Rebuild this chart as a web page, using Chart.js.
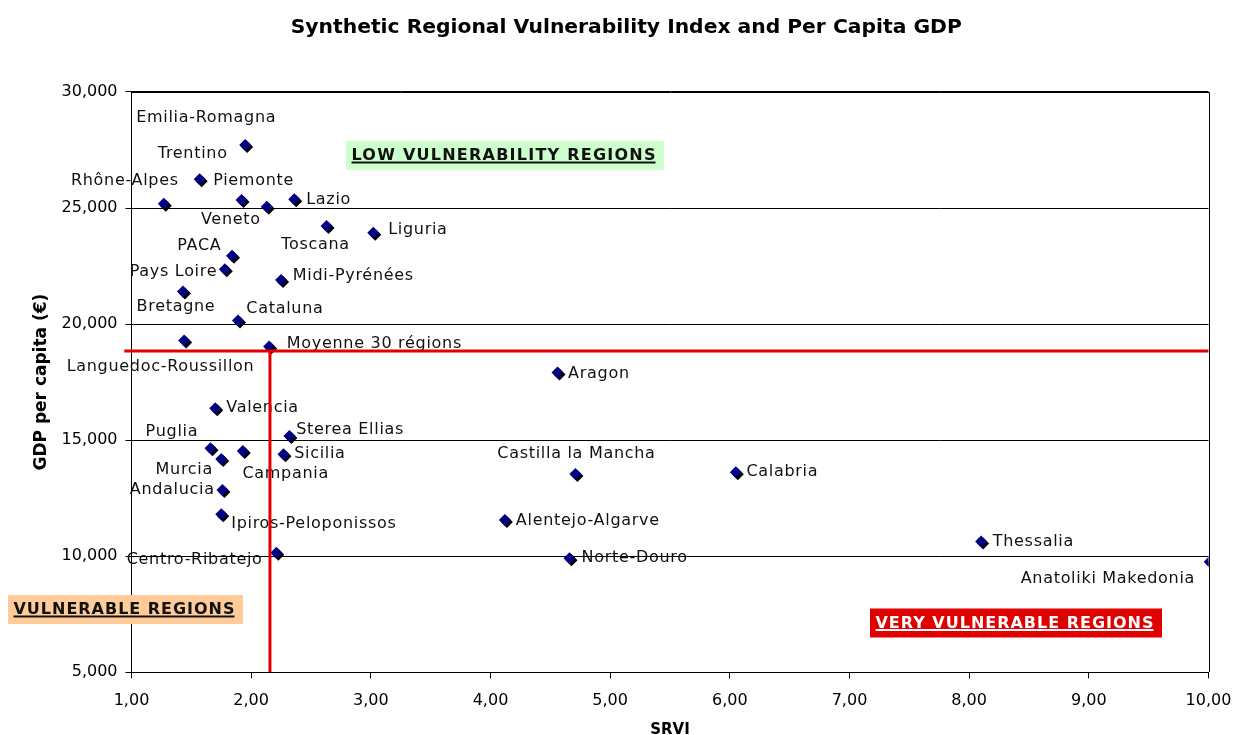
<!DOCTYPE html>
<html>
<head>
<meta charset="utf-8">
<script src="https://cdn.jsdelivr.net/npm/chart.js@4.4.1/dist/chart.umd.min.js"></script>
<style>
html,body{margin:0;padding:0;background:#ffffff;}
#wrap{width:1234px;height:735px;position:relative;}
</style>
</head>
<body>
<div id="wrap"><canvas id="chart" width="1234" height="735"></canvas></div>
<script>
// ---------- DATA ----------
const regions = ['Emilia-Romagna','Trentino','Rhône-Alpes','Piemonte','Veneto','Lazio','Toscana','Liguria',
  'PACA','Pays Loire','Midi-Pyrénées','Bretagne','Cataluna','Languedoc-Roussillon','Moyenne 30 régions',
  'Aragon','Valencia','Puglia','Sterea Ellias','Murcia','Campania','Sicilia','Andalucia',
  'Ipiros-Peloponissos','Centro-Ribatejo','Castilla la Mancha','Alentejo-Algarve','Norte-Douro',
  'Calabria','Thessalia','Anatoliki Makedonia'];
const srvi = [1.95,1.57,1.27,1.92,2.13,2.36,2.63,3.02,
  1.84,1.78,2.25,1.43,1.89,1.44,2.15,
  4.56,1.70,1.66,2.32,1.75,1.93,2.27,1.76,
  1.75,2.21,4.71,4.12,4.66,
  6.05,8.10,10.01];
const gdp = [27720,26240,25180,25350,25060,25380,24230,23940,
  22940,22360,21900,21400,20150,19290,19030,
  17910,16370,14650,15180,14190,14530,14390,12850,
  11810,10150,13540,11560,9910,
  13620,10640,9760];
// average reference lines (red)
const avgSRVI = 2.157;
const avgGDP = 18840;
const refLineStart = 0.94;
const srviMin = 1, srviMax = 10, srviStep = 1;
const gdpMin = 5000, gdpMax = 30000, gdpStep = 5000;

const chartTitle = 'Synthetic Regional Vulnerability Index and Per Capita GDP';
const xTitle = 'SRVI';
const yTitle = 'GDP per capita (€)';

// ---------- STYLE / LAYOUT (not data) ----------
// label offset from its marker: [dx, dy, textAlign]
const labelLayout = {
  'Emilia-Romagna':[-39,-27,'center'], 'Trentino':[-7,-25,'center'], 'Rhône-Alpes':[15,-23,'right'],
  'Piemonte':[12,-19,'center'], 'Veneto':[-6,13,'right'], 'Lazio':[12,1,'left'], 'Toscana':[-11,19,'center'],
  'Liguria':[15,-3,'left'], 'PACA':[-10.6,-10,'right'], 'Pays Loire':[-7.6,3,'right'],
  'Midi-Pyrénées':[11.7,-4,'left'], 'Bretagne':[-7,15,'center'], 'Cataluna':[8.3,-11.4,'left'],
  'Languedoc-Roussillon':[-23.6,26.6,'center'], 'Moyenne 30 régions':[17.7,-2.4,'left'],
  'Aragon':[10.6,1.6,'left'], 'Valencia':[11,-1,'left'], 'Puglia':[-12.3,-16.6,'right'],
  'Sterea Ellias':[6.7,-6,'left'], 'Murcia':[-8.3,11,'right'], 'Campania':[-0.4,23,'left'],
  'Sicilia':[10.7,0,'left'], 'Andalucia':[-7.7,-0.7,'right'], 'Ipiros-Peloponissos':[10,10,'left'],
  'Centro-Ribatejo':[-13.7,7.3,'right'], 'Castilla la Mancha':[1,-20.7,'center'],
  'Alentejo-Algarve':[11,0.7,'left'], 'Norte-Douro':[12,0,'left'], 'Calabria':[10.6,0,'left'],
  'Thessalia':[11.6,0,'left'], 'Anatoliki Makedonia':[-14.6,17.2,'right']
};
const regionBoxes = [
  {text:'LOW VULNERABILITY REGIONS', x:346, y:141, w:318, h:29, bg:'#ccffcc', color:'#111111'},
  {text:'VULNERABLE REGIONS', x:8, y:595, w:235, h:29, bg:'#ffcc99', color:'#111111'},
  {text:'VERY VULNERABLE REGIONS', x:870, y:608.5, w:292, h:29, bg:'#e00000', color:'#ffffff'}
];
const FONT = "'DejaVu Sans', Verdana, sans-serif";

Chart.defaults.font.family = FONT;
Chart.defaults.color = '#000000';

const plotBorder = {
  id: 'plotBorder',
  beforeDatasetsDraw(chart) {
    const {ctx, chartArea: a} = chart;
    ctx.save();
    ctx.strokeStyle = '#000000';
    ctx.lineWidth = 1;
    ctx.beginPath();
    const t = Math.round(a.top) + 0.5, r = Math.round(a.right) + 0.5;
    ctx.moveTo(Math.round(a.left), t);
    ctx.lineTo(r, t);
    ctx.lineTo(r, Math.round(a.bottom));
    ctx.stroke();
    ctx.restore();
  }
};

const isRegions = (chart, args) => chart.data.datasets[args.index].id === 'regions';

const markerShadow = {
  id: 'markerShadow',
  beforeDatasetDraw(chart, args) {
    if (!isRegions(chart, args)) return;
    const ctx = chart.ctx;
    ctx.save();
    ctx.shadowColor = '#000000';
    ctx.shadowOffsetX = 2;
    ctx.shadowOffsetY = 2;
    ctx.shadowBlur = 0;
  },
  afterDatasetDraw(chart, args) {
    if (!isRegions(chart, args)) return;
    const ctx = chart.ctx;
    ctx.restore();
    // data labels
    ctx.save();
    ctx.font = '16px ' + FONT;
    ctx.letterSpacing = '0.7px';
    ctx.fillStyle = '#111111';
    ctx.textBaseline = 'middle';
    args.meta.data.forEach((pt, i) => {
      const name = regions[i];
      const lay = labelLayout[name] || [10, 0, 'left'];
      ctx.textAlign = lay[2];
      ctx.fillText(name, pt.x + lay[0], pt.y + lay[1]);
    });
    ctx.restore();
  }
};

const boxesPlugin = {
  id: 'regionBoxes',
  afterDraw(chart) {
    const ctx = chart.ctx;
    ctx.save();
    regionBoxes.forEach(b => {
      ctx.fillStyle = b.bg;
      ctx.fillRect(b.x, b.y, b.w, b.h);
      ctx.font = 'bold 16px ' + FONT;
      ctx.textBaseline = 'alphabetic';
      ctx.textAlign = 'left';
      const target = b.w - 14;
      ctx.letterSpacing = '0px';
      const m = ctx.measureText(b.text).width;
      const ls = (target - m) / (b.text.length - 1);
      ctx.letterSpacing = ls + 'px';
      const tx = b.x + 5.5;
      const base = b.y + 19;
      ctx.fillStyle = b.color;
      ctx.fillText(b.text, tx, base);
      ctx.fillRect(tx, base + 1.5, target, 2);
    });
    ctx.restore();
  }
};

const regionPoints = regions.map((r, i) => ({x: srvi[i], y: gdp[i]}));

new Chart(document.getElementById('chart'), {
  type: 'scatter',
  data: {
    datasets: [
      {
        label: 'Average GDP', showLine: true, order: 0, clip: false,
        data: [{x: refLineStart, y: avgGDP}, {x: srviMax, y: avgGDP}],
        borderColor: '#e00000', borderWidth: 3, pointRadius: 0, pointHoverRadius: 0
      },
      {
        label: 'Average SRVI', showLine: true, order: 0,
        data: [{x: avgSRVI, y: avgGDP}, {x: avgSRVI, y: gdpMin}],
        borderColor: '#e00000', borderWidth: 3, pointRadius: 0, pointHoverRadius: 0
      },
      {
        id: 'regions', label: 'Regions', order: 1,
        data: regionPoints,
        pointStyle: 'rectRot', pointRadius: 6, pointHoverRadius: 6,
        backgroundColor: '#000080', borderColor: '#000080', borderWidth: 0
      }
    ]
  },
  options: {
    responsive: false,
    animation: false,
    events: [],
    layout: {padding: {top: 0, right: 25.5, bottom: 0, left: 44}},
    plugins: {
      legend: {display: false},
      tooltip: {enabled: false},
      title: {
        display: true, text: chartTitle, color: '#000000',
        font: {family: FONT, size: 20.3, weight: 'bold', lineHeight: 1.2},
        padding: {top: 16, bottom: 51.6}
      }
    },
    scales: {
      x: {
        type: 'linear', min: srviMin, max: srviMax,
        afterFit(s) { s.height = 62.7; s.paddingLeft = 0; s.paddingRight = 0; },
        ticks: {
          stepSize: srviStep, padding: 13, color: '#000000',
          font: {family: FONT, size: 16},
          callback: v => Number(v).toFixed(2).replace('.', ',')
        },
        grid: {display: true, drawOnChartArea: false, drawTicks: true, tickLength: 6, color: '#000000', lineWidth: 1},
        border: {display: true, color: '#000000', width: 1},
        title: {display: true, text: xTitle, color: '#000000',
          font: {family: FONT, size: 15, weight: 'bold', lineHeight: 1.0}, padding: {top: 0, bottom: -2.5}}
      },
      y: {
        type: 'linear', min: gdpMin, max: gdpMax,
        afterFit(s) { s.width = 87.5; s.paddingTop = 0; s.paddingBottom = 0; },
        ticks: {
          stepSize: gdpStep, padding: 8, color: '#000000',
          font: {family: FONT, size: 16},
          callback: v => Number(v).toLocaleString('en-US')
        },
        grid: {display: true, drawOnChartArea: true, drawTicks: true, tickLength: 6, color: '#000000', lineWidth: 1},
        border: {display: true, color: '#000000', width: 1},
        title: {display: true, text: yTitle, color: '#000000',
          font: {family: FONT, size: 17, weight: 'bold', lineHeight: 1.2}, padding: {top: -12.2, bottom: 0}}
      }
    }
  },
  plugins: [plotBorder, markerShadow, boxesPlugin]
});
</script>
</body>
</html>
